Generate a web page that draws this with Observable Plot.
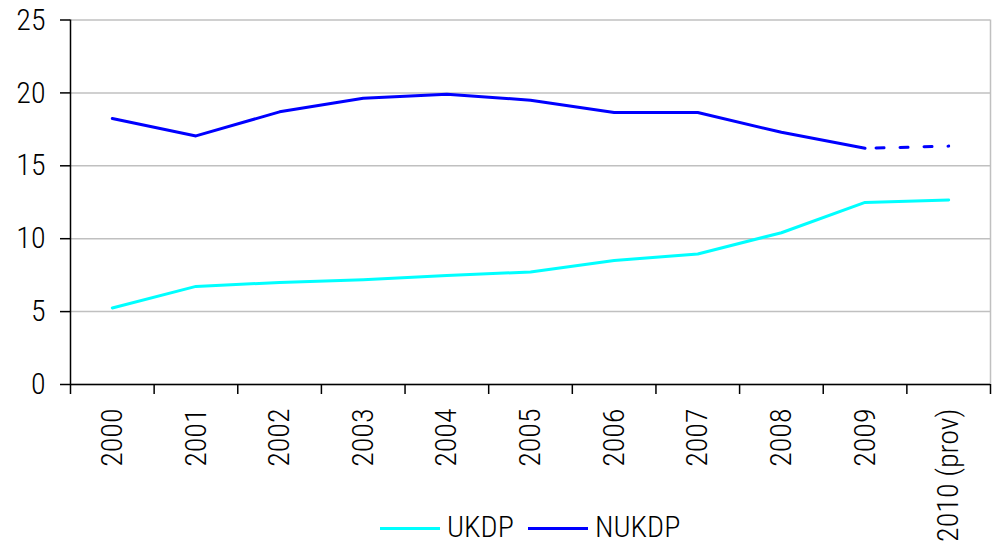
<!DOCTYPE html>
<html>
<head>
<meta charset="utf-8">
<script src="https://cdn.jsdelivr.net/npm/d3@7"></script>
<script src="https://cdn.jsdelivr.net/npm/@observablehq/plot@0.6"></script>
<style>
  html, body { margin: 0; padding: 0; background: #fff; }
  #wrap { position: relative; width: 994px; height: 544px; overflow: hidden;
          font-family: Roboto, sans-serif; font-stretch: 78%; font-weight: 300; }
  #chart svg, #chart svg text { font-family: Roboto, sans-serif; font-stretch: 78%; font-weight: 300; }
  .sw { position: absolute; height: 3px; width: 60px; }
  .lab { position: absolute; font-size: 30px; line-height: 24px; color: #000; white-space: nowrap; }
</style>
</head>
<body>
<div id="wrap">
  <div id="chart"></div>
  <div class="sw" style="left:380px; top:527px; background:#00ffff"></div>
  <div class="lab" style="left:447px; top:515px">UKDP</div>
  <div class="sw" style="left:528px; top:527px; background:#0000ff"></div>
  <div class="lab" style="left:595px; top:515px">NUKDP</div>
</div>
<script>
// Year categories along the x axis
const years = ["2000", "2001", "2002", "2003", "2004", "2005", "2006", "2007", "2008", "2009", "2010 (prov)"];
// Series values
const ukdp = [5.25, 6.73, 7.0, 7.19, 7.47, 7.72, 8.51, 8.95, 10.41, 12.49, 12.65];
const nukdp = [18.24, 17.05, 18.7, 19.64, 19.9, 19.5, 18.65, 18.65, 17.3, 16.2, 16.35];
// Value axis ticks
const yTicks = [0, 5, 10, 15, 20, 25];

const idx = years.map((_, i) => i);
const ukRows = idx.map(i => ({i, v: ukdp[i]}));
const nuRows = idx.map(i => ({i, v: nukdp[i]}));
const lastFinal = years.length - 2; // last non-provisional year
const nuFinal = nuRows.slice(0, lastFinal + 1);
const nuProv = nuRows.slice(lastFinal);
// category boundaries for the x tick marks
const bounds = d3.range(years.length + 1).map(k => k - 0.5);

const chart = Plot.plot({
  width: 994,
  height: 544,
  marginLeft: 70,
  marginRight: 4,
  marginTop: 19.5,
  marginBottom: 160,
  style: {
    fontFamily: "Roboto, sans-serif",
    fontSize: "30px",
    color: "#000",
    background: "transparent",
    overflow: "visible"
  },
  x: {type: "linear", domain: [-0.5, years.length - 0.5]},
  y: {domain: [0, 25]},
  marks: [
    Plot.gridY(yTicks, {stroke: "#c0c0c0", strokeOpacity: 1, strokeWidth: 1.5}),
    Plot.ruleX([years.length - 0.5], {stroke: "#c0c0c0", strokeWidth: 1.5}),
    Plot.line(ukRows, {x: "i", y: "v", stroke: "#00ffff", strokeWidth: 3}),
    Plot.line(nuFinal, {x: "i", y: "v", stroke: "#0000ff", strokeWidth: 3}),
    Plot.line(nuProv, {x: "i", y: "v", stroke: "#0000ff", strokeWidth: 3,
      strokeDasharray: "8 16", strokeDashoffset: 13}),
    Plot.ruleX([-0.5], {stroke: "#000", strokeWidth: 1.5}),
    Plot.ruleY([0], {stroke: "#000", strokeWidth: 1.5}),
    Plot.axisY({ticks: yTicks, tickSize: 10, tickPadding: 15, label: null,
      strokeWidth: 1.5, fill: "#000"}),
    Plot.axisX({ticks: bounds, tickSize: 10, tickFormat: () => "", label: null,
      strokeWidth: 1.5}),
    Plot.axisX({ticks: idx, tickSize: 0, tickPadding: 24, tickRotate: -90,
      tickFormat: i => years[i], label: null, fill: "#000"})
  ]
});
document.getElementById("chart").appendChild(chart);
</script>
</body>
</html>
